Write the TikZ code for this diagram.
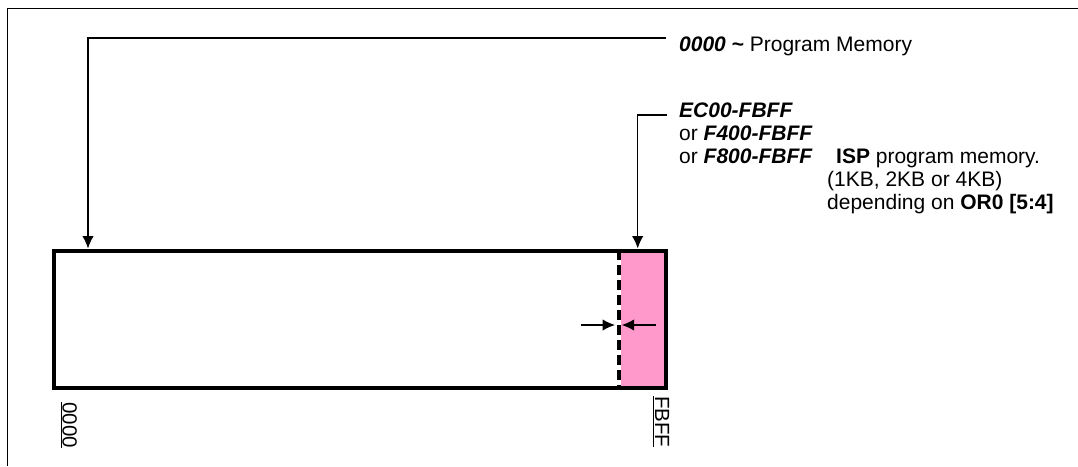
\documentclass[tikz,border=0pt]{standalone}
\usepackage{fontspec}
\setmainfont{Liberation Sans}
\usetikzlibrary{arrows.meta}
\definecolor{isppink}{HTML}{FF99CC}
\begin{document}
\begin{tikzpicture}[x=1pt,y=-1pt,
  lbl/.style={anchor=base west, inner sep=0pt, font=\fontsize{21}{23}\selectfont},
  rlbl/.style={anchor=base west, inner sep=0pt, rotate=-90, font=\fontsize{20.5}{22}\selectfont},
  conn/.style={line width=1.3pt, -{Latex[length=12.5pt,width=11.5pt]}},
  small/.style={line width=1.3pt, -{Latex[length=12.5pt,width=11.5pt]}},
  frame/.style={line width=1.3pt},
  membox/.style={draw, line width=4pt, inner sep=0pt, minimum width=612.3pt, minimum height=137.3pt},
  ispbox/.style={fill=isppink, draw=none, inner sep=0pt, minimum width=45.5pt, minimum height=137.3pt},
  split/.style={line width=4pt, dash pattern=on 10pt off 5pt}
]
\useasboundingbox (0,0) rectangle (1078,466);
% frame
\draw[frame] (7.3,466) -- (7.3,8.5) -- (1078,8.5);
% memory
\node[ispbox] (isp) at (643.75,319.3) {};
\node[membox] (mem) at (360.2,319.3) {};
\draw[split] ([xshift=-2pt]isp.north west) -- ([xshift=-2pt]isp.south west);
% labels
\node[lbl] (t1) at (679,51.7) {\textbf{\textit{0000}} \textbf{\textasciitilde} Program Memory};
\node[lbl] (t2) at (679,117) {\textbf{\textit{EC00-FBFF}}};
\node[lbl] (t3) at (679,140) {or \textbf{\textit{F400-FBFF}}};
\node[lbl] (t4) at (679,163) {or \textbf{\textit{F800-FBFF}}};
\node[lbl] (t5) at (836,163) {\textbf{ISP} program memory.};
\node[lbl] (t6) at (827,186) {(1KB, 2KB or 4KB)};
\node[lbl] (t7) at (827,209) {depending on \textbf{OR0 [5:4]}};
% connectors
\coordinate (c1) at (666,38);
\coordinate (e1) at (88,248.5);
\draw[conn] (c1) -| (e1);
\coordinate (c2) at (667,115);
\coordinate (e2) at (637.7,248.5);
\draw[conn] (c2) -| (e2);
% small arrows
\coordinate (a1) at (580.7,325);
\coordinate (a2) at (615,325);
\coordinate (b1) at (656,325);
\coordinate (b2) at (621.7,325);
\draw[small] (a1) -- (a2);
\draw[small] (b1) -- (b2);
% address labels
\node[rlbl] (z0) at (62.5,402) {\underline{0000}};
\node[rlbl] (zf) at (655,396) {\underline{FBFF}};
\end{tikzpicture}
\end{document}
